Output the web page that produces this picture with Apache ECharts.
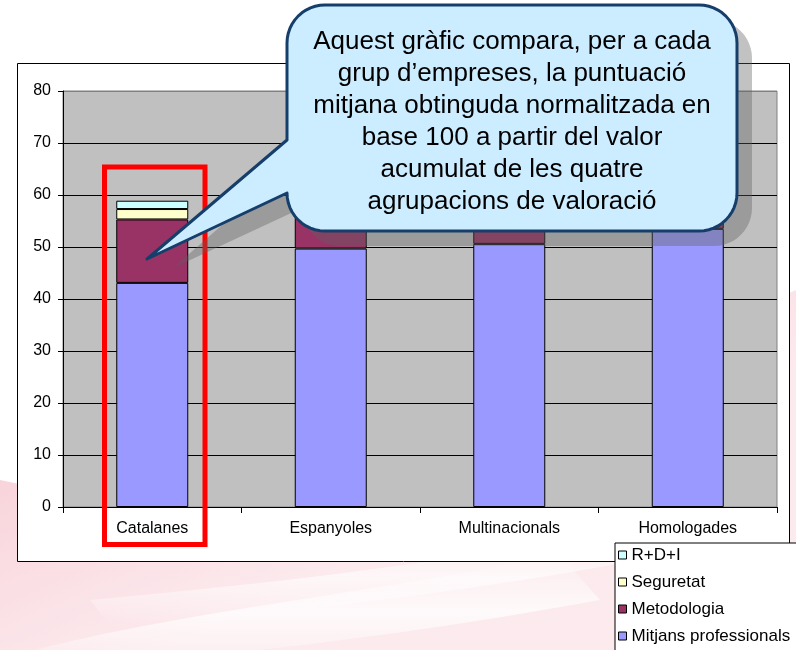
<!DOCTYPE html>
<html>
<head>
<meta charset="utf-8">
<script src="https://cdn.jsdelivr.net/npm/echarts@6/dist/echarts.min.js"></script>
<style>
html,body{margin:0;padding:0;background:#fff;}
#main{width:796px;height:650px;}
</style>
</head>
<body>
<div id="main"></div>
<script>
// ---- data ----
var categories = ['Catalanes', 'Espanyoles', 'Multinacionals', 'Homologades'];
var mitjans = [43.1, 49.7, 50.6, 53.5];
var metodologia = [12.2, 11.0, 8.5, 11.0];
var seguretat = [2.0, 2.5, 3.0, 3.0];
var rdi = [1.6, 2.0, 2.5, 2.5];
var seriesNames = ['Mitjans professionals', 'Metodologia', 'Seguretat', 'R+D+I'];
var legendOrder = ['R+D+I', 'Seguretat', 'Metodologia', 'Mitjans professionals'];
var yTicks = {min: 0, max: 80, interval: 10};
var calloutText = [
  'Aquest gràfic compara, per a cada',
  'grup d’empreses, la puntuació',
  'mitjana obtinguda normalitzada en',
  'base 100 a partir del valor',
  'acumulat de les quatre',
  'agrupacions de valoració'
];

var FONT = '"Liberation Sans", Arial, sans-serif';
var colors = ['#9999FF', '#993366', '#FFFFCC', '#CCFFFF'];
var seriesData = [mitjans, metodologia, seguretat, rdi];

// ---- shape helpers (annotation geometry) ----
function arcPts(cx, cy, r, a0, a1, n) {
  var p = [];
  for (var i = 0; i <= n; i++) {
    var a = (a0 + (a1 - a0) * i / n) * Math.PI / 180;
    p.push([cx + r * Math.cos(a), cy + r * Math.sin(a)]);
  }
  return p;
}
function calloutPts(x0, y0, x1, y1, r, tailTop, tailBottom, tip) {
  var p = [];
  p = p.concat(arcPts(x0 + r, y0 + r, r, 180, 270, 12));
  p = p.concat(arcPts(x1 - r, y0 + r, r, 270, 360, 12));
  p = p.concat(arcPts(x1 - r, y1 - r, r, 0, 90, 12));
  p = p.concat(arcPts(x0 + r, y1 - r, r, 90, 180, 12));
  p.push([x0, tailBottom]);
  p.push(tip);
  p.push([x0, tailTop]);
  return p;
}
function bez(p0, p1, p2, p3, n) {
  var out = [];
  for (var i = 0; i <= n; i++) {
    var t = i / n, u = 1 - t;
    out.push([
      u*u*u*p0[0] + 3*u*u*t*p1[0] + 3*u*t*t*p2[0] + t*t*t*p3[0],
      u*u*u*p0[1] + 3*u*u*t*p1[1] + 3*u*t*t*p2[1] + t*t*t*p3[1]
    ]);
  }
  return out;
}

var chart = echarts.init(document.getElementById('main'), null, {renderer: 'canvas'});

var series = seriesData.map(function (d, i) {
  return {
    name: seriesNames[i],
    type: 'bar',
    stack: 'total',
    barWidth: 72,
    data: d,
    itemStyle: {color: colors[i], borderColor: '#000', borderWidth: 1},
    emphasis: {disabled: true},
    z: 2
  };
});

var gridColors = [];
for (var v = yTicks.min; v <= yTicks.max; v += yTicks.interval) {
  gridColors.push(v === yTicks.max ? '#808080' : '#000000');
}

var bubble = calloutPts(287, 5, 737, 231, 38, 140, 193, [147, 259]);
var shadow = calloutPts(302, 20, 752, 246, 38, 155, 208, [173, 268]);

var swoosh = [[0, 650]].concat(bez([0, 480], [180, 520], [400, 470], [796, 290], 30)).concat([[796, 650]]);
var streak1 = bez([0, 660], [150, 615], [330, 600], [560, 555], 20).concat(bez([600, 600], [380, 640], [220, 655], [60, 670], 20));
var streak2 = bez([90, 600], [250, 585], [400, 570], [620, 530], 20).concat(bez([640, 560], [420, 600], [260, 615], [110, 625], 20));

function softBand(alpha) {
  return new echarts.graphic.LinearGradient(0, 0, 0, 1, [
    {offset: 0, color: 'rgba(255,255,255,0)'},
    {offset: 0.5, color: 'rgba(255,255,255,' + alpha + ')'},
    {offset: 1, color: 'rgba(255,255,255,0)'}
  ]);
}

var option = {
  animation: false,
  backgroundColor: '#ffffff',
  textStyle: {fontFamily: FONT},
  grid: {
    left: 63, right: 19, top: 91, bottom: 143,
    show: true, backgroundColor: '#C0C0C0', borderColor: '#808080', borderWidth: 1,
    z: 0
  },
  xAxis: {
    type: 'category',
    data: categories,
    axisLine: {lineStyle: {color: '#000', width: 1}},
    axisTick: {show: true, length: 6, lineStyle: {color: '#000'}},
    axisLabel: {color: '#000', fontSize: 16, margin: 14, fontFamily: FONT},
    splitLine: {show: false}
  },
  yAxis: {
    type: 'value',
    min: yTicks.min, max: yTicks.max, interval: yTicks.interval,
    axisLine: {show: true, lineStyle: {color: '#000', width: 1}},
    axisTick: {show: true, length: 5, lineStyle: {color: '#000'}},
    axisLabel: {color: '#000', fontSize: 16, margin: 12, fontFamily: FONT},
    splitLine: {show: true, lineStyle: {color: gridColors, width: 1}}
  },
  legend: {
    type: 'plain',
    data: legendOrder,
    orient: 'vertical',
    left: 615, top: 543,
    width: 220, height: 140,
    padding: [2, 40, 10, 3],
    itemWidth: 8, itemHeight: 8,
    itemGap: 7,
    icon: 'rect',
    itemStyle: {borderColor: '#000', borderWidth: 1},
    backgroundColor: '#ffffff',
    borderColor: '#000000',
    borderWidth: 1,
    borderRadius: 0,
    selectedMode: false,
    textStyle: {color: '#000', fontSize: 17, lineHeight: 20, fontFamily: FONT},
    z: 200
  },
  series: series,
  graphic: [
    {
      type: 'polygon', z: -20, silent: true,
      shape: {points: swoosh},
      style: {
        fill: new echarts.graphic.LinearGradient(0, 0, 0.2, 1, [
          {offset: 0, color: 'rgba(244,175,188,0.25)'},
          {offset: 0.45, color: 'rgba(240,160,175,0.45)'},
          {offset: 1, color: 'rgba(246,195,205,0.35)'}
        ])
      }
    },
    {
      type: 'polygon', z: -19, silent: true,
      shape: {points: streak1},
      style: {fill: softBand(0.75)}
    },
    {
      type: 'polygon', z: -19, silent: true,
      shape: {points: streak2},
      style: {fill: softBand(0.6)}
    },
    {
      type: 'rect', z: -5, silent: true,
      shape: {x: 17.5, y: 63.5, width: 772, height: 498},
      style: {fill: '#ffffff', stroke: '#000000', lineWidth: 1}
    },
    {
      type: 'rect', z: 40, silent: true,
      shape: {x: 104.5, y: 167, width: 100.5, height: 377.5},
      style: {fill: 'none', stroke: '#FF0000', lineWidth: 5}
    },
    {
      type: 'polygon', z: 50, silent: true,
      shape: {points: shadow},
      style: {fill: 'rgba(95,95,95,0.38)'}
    },
    {
      type: 'polygon', z: 60, silent: true,
      shape: {points: bubble},
      style: {fill: '#CCECFF', stroke: '#163E6A', lineWidth: 3, lineJoin: 'round'}
    },
    {
      type: 'text', z: 61, silent: true,
      x: 512, y: 26,
      style: {
        text: calloutText.join('\n'),
        fill: '#000',
        fontSize: 26,
        fontFamily: FONT,
        lineHeight: 32,
        align: 'center',
        verticalAlign: 'top'
      }
    }
  ]
};

chart.setOption(option);
</script>
</body>
</html>
